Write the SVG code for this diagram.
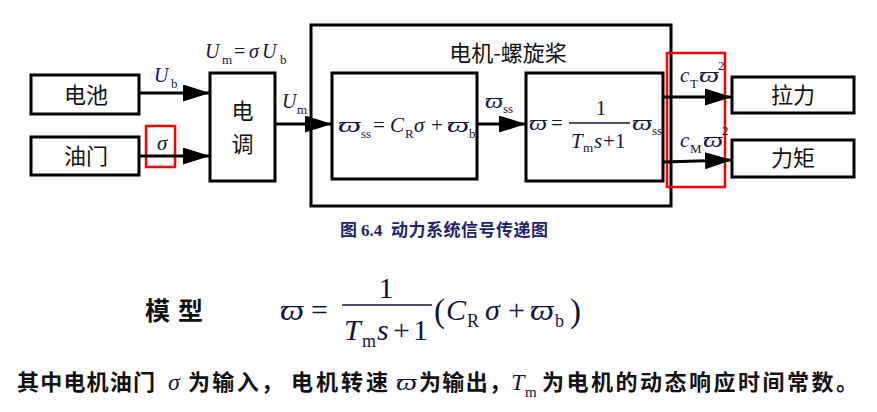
<svg xmlns="http://www.w3.org/2000/svg" width="877" height="412" viewBox="0 0 877 412">
<defs>
<style>
.box{fill:#fff;stroke:#000;stroke-width:3}
.hl{fill:none;stroke:#ff0000;stroke-width:2.5}
.ln{fill:none;stroke:#000;stroke-width:2.8}
.cn{font-family:"Noto Sans CJK SC","Noto Sans CJK JP",sans-serif;font-size:22px;fill:#111;text-anchor:middle}
.mi{font-family:"Liberation Serif","DejaVu Serif",serif;font-style:italic;fill:#15153a}
.mr{font-family:"Liberation Serif","DejaVu Serif",serif;fill:#15153a}
.bt{font-family:"Noto Sans CJK SC","Noto Sans CJK JP",sans-serif;font-weight:700;fill:#111}
.cap{font-weight:700;fill:#1f2470}
</style>
<marker id="ah" markerUnits="userSpaceOnUse" markerWidth="28" markerHeight="18" refX="27" refY="8.5" orient="auto">
<path d="M0,0 L27,8.5 L0,17 z" fill="#000"/>
</marker>
</defs>
<rect width="877" height="412" fill="#fff"/>

<g id="motor-propeller">
<rect class="box" x="311" y="25" width="360" height="181"/>
<text class="cn" x="508" y="61">电机-螺旋桨</text>
</g>

<g id="battery">
<rect class="box" x="31" y="75" width="108" height="39"/>
<text class="cn" x="86" y="103">电池</text>
</g>
<g id="throttle">
<rect class="box" x="31" y="137" width="108" height="38"/>
<text class="cn" x="86" y="164">油门</text>
</g>
<g id="esc">
<rect class="box" x="210" y="73" width="65" height="108"/>
<text class="cn" x="242.5" y="119">电</text>
<text class="cn" x="242.5" y="152">调</text>
</g>
<g id="steady-speed">
<rect class="box" x="332" y="73" width="145" height="106"/>
<text class="mi" x="338" y="132" font-size="21" textLength="23" lengthAdjust="spacingAndGlyphs">ϖ</text>
<text class="mr" x="361" y="138" font-size="13">ss</text>
<text class="mr" x="373" y="132" font-size="21">=</text>
<text class="mi" x="390" y="132" font-size="21">C</text>
<text class="mr" x="405" y="138" font-size="13">R</text>
<text class="mi" x="414" y="132" font-size="21">σ</text>
<text class="mr" x="431" y="132" font-size="21">+</text>
<text class="mi" x="447" y="132" font-size="21" textLength="22" lengthAdjust="spacingAndGlyphs">ϖ</text>
<text class="mr" x="469" y="138" font-size="13">b</text>
</g>
<g id="dynamics">
<rect class="box" x="526" y="73" width="137" height="108"/>
<text class="mi" x="529" y="130" font-size="21" textLength="18" lengthAdjust="spacingAndGlyphs">ϖ</text>
<text class="mr" x="551" y="130" font-size="21">=</text>
<line x1="569" y1="123" x2="630" y2="123" stroke="#15153a" stroke-width="1.3"/>
<text class="mr" x="601" y="115" font-size="21" text-anchor="middle">1</text>
<text class="mi" x="571" y="148" font-size="21">T</text>
<text class="mr" x="583" y="152" font-size="13">m</text>
<text class="mi" x="594" y="148" font-size="21">s</text>
<text class="mr" x="603" y="148" font-size="21">+</text>
<text class="mr" x="615" y="148" font-size="21">1</text>
<text class="mi" x="632" y="130" font-size="21" textLength="20" lengthAdjust="spacingAndGlyphs">ϖ</text>
<text class="mr" x="652" y="135" font-size="13">ss</text>
</g>
<g id="thrust">
<rect class="box" x="732" y="77" width="122" height="36"/>
<text class="cn" x="793" y="103">拉力</text>
</g>
<g id="torque">
<rect class="box" x="732" y="140" width="122" height="37"/>
<text class="cn" x="793" y="166">力矩</text>
</g>

<g id="highlights">
<rect class="hl" x="146" y="126" width="29" height="41"/>
<rect class="hl" x="667" y="53" width="58" height="134"/>
</g>

<g id="connectors">
<line class="ln" x1="139" y1="93" x2="210" y2="93" marker-end="url(#ah)"/>
<line class="ln" x1="139" y1="156" x2="210" y2="156" marker-end="url(#ah)"/>
<line class="ln" x1="275" y1="124" x2="332" y2="124" marker-end="url(#ah)"/>
<line class="ln" x1="477" y1="124" x2="526" y2="124" marker-end="url(#ah)"/>
<line class="ln" x1="663" y1="97" x2="732" y2="97" marker-end="url(#ah)"/>
<line class="ln" x1="663" y1="162" x2="732" y2="160" marker-end="url(#ah)"/>
</g>

<g id="connector-labels">
<text class="mi" x="154" y="82" font-size="20">U</text>
<text class="mr" x="171" y="88" font-size="13">b</text>
<text class="mi" x="205" y="58" font-size="20">U</text>
<text class="mr" x="222" y="64" font-size="13">m</text>
<text class="mr" x="234" y="58" font-size="20">=</text>
<text class="mi" x="249" y="58" font-size="20">σ</text>
<text class="mi" x="262" y="58" font-size="20">U</text>
<text class="mr" x="280" y="64" font-size="13">b</text>
<text class="mi" x="282" y="108" font-size="20">U</text>
<text class="mr" x="297" y="114" font-size="13">m</text>
<text class="mi" x="157" y="150" font-size="21">σ</text>
<text class="mi" x="485" y="108" font-size="21" textLength="18" lengthAdjust="spacingAndGlyphs">ϖ</text>
<text class="mr" x="503" y="113" font-size="13">ss</text>
<text class="mi" x="680" y="82" font-size="21">c</text>
<text class="mr" x="690" y="88" font-size="13">T</text>
<text class="mi" x="699" y="82" font-size="21" textLength="20" lengthAdjust="spacingAndGlyphs">ϖ</text>
<text class="mr" x="718" y="70" font-size="13">2</text>
<text class="mi" x="680" y="147" font-size="21">c</text>
<text class="mr" x="690" y="153" font-size="13">M</text>
<text class="mi" x="703" y="147" font-size="21" textLength="20" lengthAdjust="spacingAndGlyphs">ϖ</text>
<text class="mr" x="722" y="135" font-size="13">2</text>
</g>

<g id="caption">
<text class="bt cap" x="340" y="236" font-size="17">图</text>
<text class="cap" x="361" y="236" font-size="17" font-family="Liberation Serif, serif">6.4</text>
<text class="bt cap" x="391" y="236" font-size="17" textLength="157">动力系统信号传递图</text>
</g>

<g id="model">
<text class="bt" x="145" y="320" font-size="25" letter-spacing="8">模型</text>
<text class="mi" x="280" y="320" font-size="30" textLength="24" lengthAdjust="spacingAndGlyphs">ϖ</text>
<text class="mr" x="311" y="320" font-size="30">=</text>
<line x1="342" y1="305" x2="432" y2="305" stroke="#15153a" stroke-width="1.5"/>
<text class="mr" x="386" y="298" font-size="30" text-anchor="middle">1</text>
<text class="mi" x="344" y="340" font-size="30">T</text>
<text class="mr" x="362" y="347" font-size="18">m</text>
<text class="mi" x="377" y="340" font-size="30">s</text>
<text class="mr" x="393" y="340" font-size="30">+</text>
<text class="mr" x="413" y="340" font-size="30">1</text>
<text class="mr" x="434" y="322" font-size="33">(</text>
<text class="mi" x="446" y="320" font-size="30">C</text>
<text class="mr" x="467" y="327" font-size="18">R</text>
<text class="mi" x="485" y="320" font-size="30">σ</text>
<text class="mr" x="508" y="320" font-size="30">+</text>
<text class="mi" x="530" y="320" font-size="30" textLength="24" lengthAdjust="spacingAndGlyphs">ϖ</text>
<text class="mr" x="555" y="327" font-size="18">b</text>
<text class="mr" x="570" y="322" font-size="33">)</text>
</g>

<g id="description">
<text class="bt" x="17" y="390" font-size="22" textLength="138">其中电机油门</text>
<text class="mi" x="168" y="390" font-size="24">σ</text>
<text class="bt" x="188" y="390" font-size="22" textLength="95">为输入，</text>
<text class="bt" x="291" y="390" font-size="22" textLength="97">电机转速</text>
<text class="mi" x="396" y="390" font-size="24" textLength="21" lengthAdjust="spacingAndGlyphs">ϖ</text>
<text class="bt" x="419" y="390" font-size="22" textLength="92">为输出，</text>
<text class="mi" x="511" y="390" font-size="24">T</text>
<text class="mr" x="525" y="397" font-size="15">m</text>
<text class="bt" x="542" y="390" font-size="22" textLength="316">为电机的动态响应时间常数。</text>
</g>
</svg>
